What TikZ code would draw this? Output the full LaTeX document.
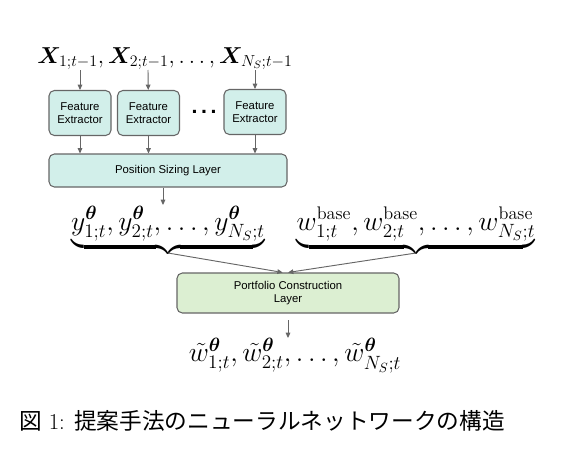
\documentclass[tikz,border=0pt]{standalone}
\usepackage{amsmath, bm}
\usepackage{fontspec}
\newfontfamily\boxfont{Liberation Sans}
\newfontfamily\cjk{Noto Sans CJK JP}
\usetikzlibrary{arrows.meta}
\definecolor{cyanbox}{HTML}{D2EFEA}
\definecolor{greenbox}{HTML}{DCEFD2}
\definecolor{edge}{HTML}{666666}

\tikzset{
	layerbox/.style = {draw = edge, line width = 0.8pt, rounded corners = 4pt, align = center,
		font = \boxfont\fontsize{8.5}{10}\selectfont, inner sep = 1pt},
	extractor/.style = {layerbox, fill = cyanbox, minimum width = 46.5pt, minimum height = 33.75pt},
	arr/.style = {-{Triangle[length = 4pt, width = 3.5pt]}, draw = edge, line width = 0.7pt},
	mathrow/.style = {inner sep = 0pt, font = \fontsize{19.5}{23}\selectfont}
}

\begin{document}
\begin{tikzpicture}[x = 0.75pt, y = -0.75pt]
	\useasboundingbox (0,0) rectangle (588,468);
	% inputs
	\node [mathrow, anchor = base, font = \fontsize{17}{20}\selectfont] (inputs) at (165,63)
		{$\bm{X}_{1;t-1}, \bm{X}_{2;t-1}, \dots, \bm{X}_{N_S;t-1}$};
	\coordinate (in1) at (80,70);
	\coordinate (in2) at (148,70);
	\coordinate (in3) at (255,70);
	% feature extractors
	\node [extractor] (fe1) at (80,113) {Feature\\Extractor};
	\node [extractor] (fe2) at (148.5,113) {Feature\\Extractor};
	\node [extractor] (fe3) at (255,112) {Feature\\Extractor};
	\node [font = \boxfont\bfseries\fontsize{16}{16}\selectfont] (dots) at (204,112) {.\,.\,.};
	\foreach \i in {1,2,3}
	\draw [arr] (in\i) -- (fe\i);
	% position sizing
	\node [layerbox, fill = cyanbox, minimum width = 178.5pt, minimum height = 24.75pt] (psl) at (168,170.5)
		{Position Sizing Layer};
	\foreach \i in {1,2,3}
	\draw [arr] (fe\i.south) -- (fe\i.south |- psl.north);
	% outputs of position sizing and base weights
	\node [mathrow, anchor = south] (yrow) at (168,253)
		{$\underbrace{y^{\bm{\theta}}_{1;t}, y^{\bm{\theta}}_{2;t}, \dots, y^{\bm{\theta}}_{N_S;t}}$};
	\node [mathrow, anchor = south] (wrow) at (416,253)
		{$\underbrace{w^{\mathrm{base}}_{1;t}, w^{\mathrm{base}}_{2;t}, \dots, w^{\mathrm{base}}_{N_S;t}}$};
	\coordinate (ytip) at (163,205);
	\draw [arr] (psl.south -| ytip) -- (ytip);
	% portfolio construction
	\node [layerbox, fill = greenbox, minimum width = 166.5pt, minimum height = 30pt] (pcl) at (288,293)
		{Portfolio Construction\\Layer};
	\draw [arr] (yrow.south) -- ([xshift = -4pt]pcl.north);
	\draw [arr] (wrow.south) -- ([xshift = 0pt]pcl.north);
	% final weights
	\node [mathrow, anchor = north] (wout) at (295,338)
		{$\tilde{w}^{\bm{\theta}}_{1;t}, \tilde{w}^{\bm{\theta}}_{2;t}, \dots, \tilde{w}^{\bm{\theta}}_{N_S;t}$};
	\coordinate (outtop) at (288,320);
	\draw [arr] (outtop) -- (outtop |- wout.north);
	% caption
	\node [font = \fontsize{17}{20}\selectfont] (caption) at (262,421)
		{{\cjk 図} 1: {\cjk 提案手法のニューラルネットワークの構造}};
\end{tikzpicture}
\end{document}
